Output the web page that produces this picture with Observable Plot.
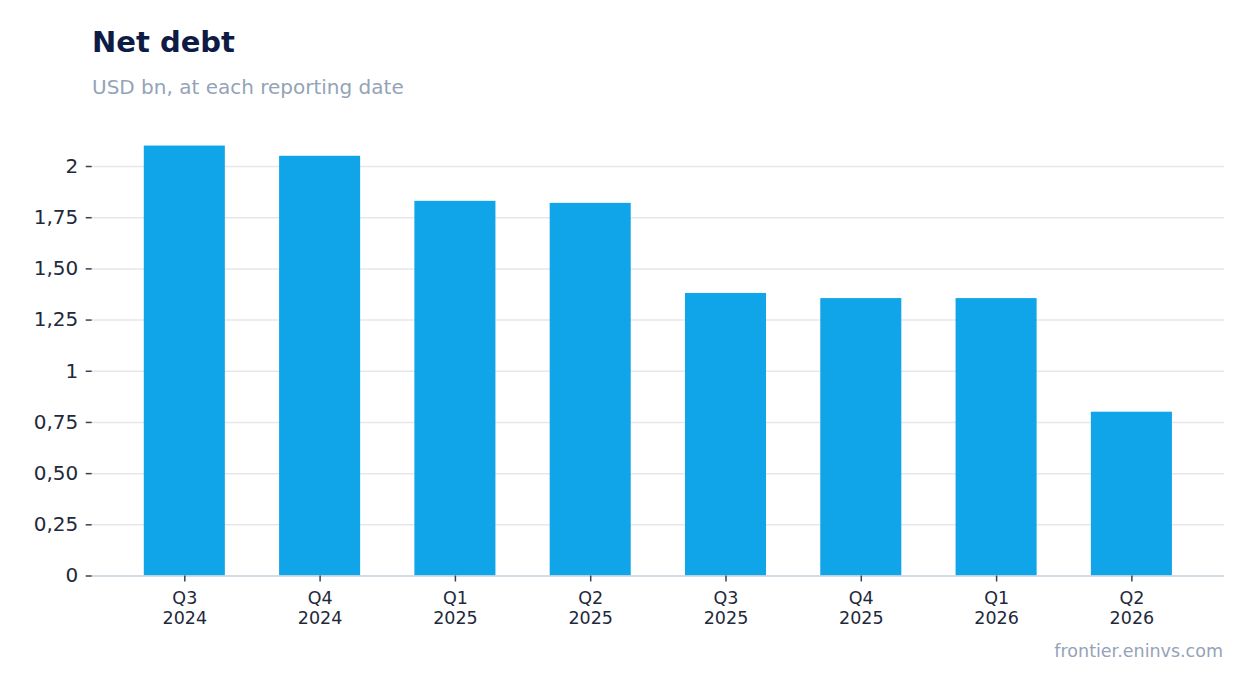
<!DOCTYPE html>
<html><head><meta charset="utf-8">
<script src="https://cdn.jsdelivr.net/npm/d3@7"></script>
<script src="https://cdn.jsdelivr.net/npm/@observablehq/plot@0.6"></script>
<style>
body{margin:0;background:#fff;font-family:"DejaVu Sans",sans-serif;}
#wrap{position:relative;width:1254px;height:693px;}
#title{position:absolute;left:92px;top:28px;font-size:29px;font-weight:bold;color:#0d1b45;line-height:1;}
#sub{position:absolute;left:92px;top:77px;font-size:20px;color:#94a3b8;line-height:1;}
#chart{position:absolute;left:0;top:112px;}
#cap{position:absolute;right:31px;top:643px;font-size:17.5px;color:#94a3b8;line-height:1;}
</style></head>
<body><div id="wrap">
<div id="title">Net debt</div>
<div id="sub">USD bn, at each reporting date</div>
<div id="chart"></div>
<div id="cap">frontier.eninvs.com</div>
</div>
<script>
const quarters = ["Q3\n2024","Q4\n2024","Q1\n2025","Q2\n2025","Q3\n2025","Q4\n2025","Q1\n2026","Q2\n2026"];
const netDebt = [2.10, 2.05, 1.83, 1.82, 1.38, 1.355, 1.355, 0.80];
const yTicks = [0, 0.25, 0.5, 0.75, 1, 1.25, 1.5, 1.75, 2];
const data = quarters.map((q, i) => ({q, v: netDebt[i]}));
const fmt = v => Number.isInteger(v) ? String(v) : v.toFixed(2).replace(".", ",");

const plot = Plot.plot({
  width: 1254,
  height: 520,
  marginLeft: 91.7,
  marginRight: 30,
  marginTop: 10,
  marginBottom: 56.5,
  style: {fontFamily: "DejaVu Sans, sans-serif", background: "#fff", overflow: "visible"},
  x: {domain: quarters, paddingInner: 0.401, paddingOuter: 0.385, round: false, label: null},
  y: {domain: [0, 2.215], label: null},
  marks: [
    Plot.gridY(yTicks, {stroke: "#e5e7eb", strokeOpacity: 1, strokeWidth: 1.5}),
    Plot.ruleX([0], {frameAnchor: "left", stroke: "#e5e7eb", strokeWidth: 1.5}),
    Plot.barY(data, {x: "q", y: "v", fill: "#10a5e8"}),
    Plot.ruleY([0], {stroke: "#cbd5e1", strokeWidth: 1.5}),
    Plot.axisY(yTicks, {tickFormat: fmt, tickSize: 6, tickPadding: 8, fontSize: 20, color: "#1e293b", stroke: "#374151", strokeWidth: 1.5}),
    Plot.axisX({tickSize: 6, tickPadding: 8, fontSize: 17.5, color: "#1e293b", stroke: "#374151", strokeWidth: 1.5, lineHeight: 1.12})
  ]
});
document.getElementById("chart").appendChild(plot);
</script>
</body></html>
